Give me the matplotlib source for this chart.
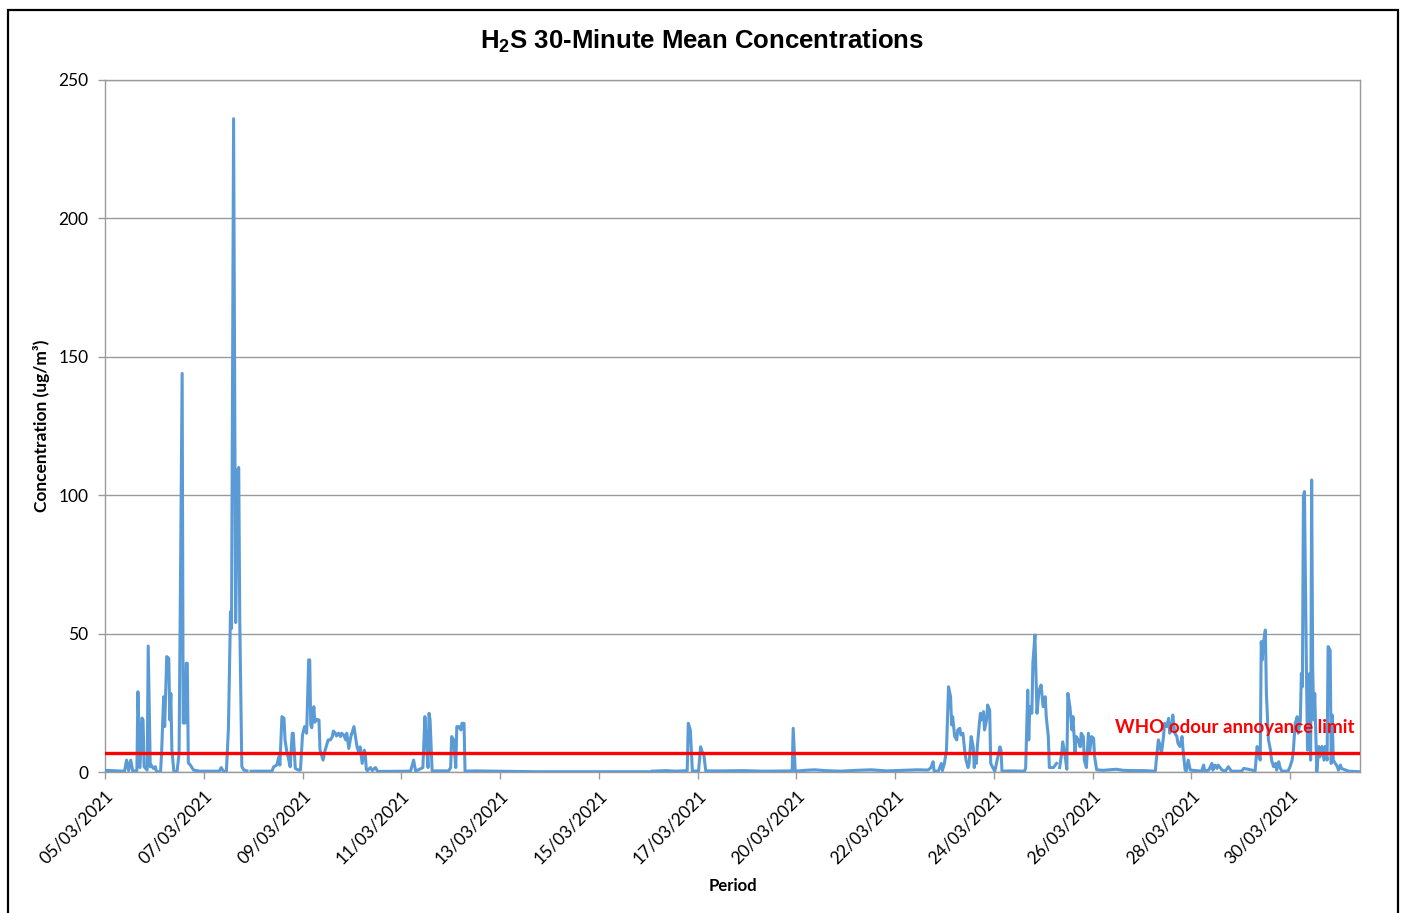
import numpy as np
import matplotlib.pyplot as plt
from matplotlib.patches import Rectangle
from matplotlib.transforms import blended_transform_factory

plt.rcParams['font.family'] = ['Lato', 'DejaVu Sans']
plt.rcParams['mathtext.fontset'] = 'custom'
plt.rcParams['mathtext.rm'] = 'Liberation Sans:bold'
plt.rcParams['mathtext.it'] = 'Liberation Sans:bold'
plt.rcParams['mathtext.bf'] = 'Liberation Sans:bold'

# x = 30-minute sample number on the (category) axis, one date label every 96 samples
date_labels = ["05/03/2021", "07/03/2021", "09/03/2021", "11/03/2021", "13/03/2021",
               "15/03/2021", "17/03/2021", "20/03/2021", "22/03/2021", "24/03/2021",
               "26/03/2021", "28/03/2021", "30/03/2021"]
label_step = 96
n_samples = 1221
who_limit = 7  # ug/m3
nan = np.nan

# 05/03 - 09/03
idx_05_09 = [0, 19, 21, 23, 25, 27, 31, 32, 34, 36, 37, 38, 41, 42, 44, 45, 47, 49, 50, 54,
             55, 57, 58, 60, 62, 63, 64, 65, 67, 70, 72, 75, 76, 78, 79, 80, 81, 83, 86, 92,
             111, 113, 115, 118, 120, 122, 123, 125, 127, 129, 130, 131, 133, 135, 138, 139, 140,
             142, 161, 162, 164, 167, 169, 170, 172, 174, 175, 177, 178, 180, 182, 183, 185, 188,
             190, 192, 194, 196, 198, 199]
h2s_05_09 = [0.6, 0.3, 4.3, 0.5, 4.3, 0.3, 0.5, 29, 1.6, 19.5, 18.8, 1.9, 0.7, 45.5, 1.9, 2.5, 1.3, 1.9, 0.1, 0.1,
             6.7, 27.2, 16.4, 41.7, 41, 18.8, 28.4, 7.9, 0.1, 0.1, 6.7, 144, 17.7, 17.7, 39.3, 39.3, 3.3, 2.5, 0.7, 0.3,
             0.3, 1.6, 0.3, 0.2, 15.8, 57.9, 51.9, 236, 54, 109, 110, 55, 2, 0.7, 0.4, nan, nan,
             0.3, 0.3, 0.0, 1.9, 2.5, 5.5, 2.5, 20, 19.4, 11.6, 6.7, 5.5, 1.9, 14, 14, 1.3, 0.7,
             0.7, 13.4, 16.4, 14, 40.5, 40.5]

# 09/03 - 13/03
idx_09_13 = [200, 201, 203, 204, 206, 208, 209, 211, 212, 214, 216, 217, 219, 221, 222, 224, 225, 227,
             229, 230, 232, 234, 235, 237, 239, 240, 242, 243, 245, 247, 248, 250, 252, 253, 254, 255,
             258, 260, 261, 263, 265, 297, 300, 302, 309, 311, 312, 314, 315, 316, 318, 334, 336, 337, 339,
             341, 342, 344, 346, 347, 349, 350, 360, 380]
h2s_09_13 = [17, 16, 23.6, 18, 19, 18.8, 8, 5.5, 4.3, 7.9, 10.4, 11.6, 11.6, 12.8, 14.8, 14, 13, 14,
             12.8, 14, 13.4, 11.6, 14, 8.5, 12.8, 14, 16.4, 14, 9.1, 6.7, 9.1, 3.1, 7.9, 6.7, 1, 0.5,
             1.6, 0.5, 1.0, 1.6, 0.2, 0.3, 4.3, 0.3, 1.6, 20, 12.8, 1.6, 21.2, 18.8, 0.4, 0.4, 1.6, 12.8, 11.6,
             1.6, 16.4, 16.4, 15.2, 17.6, 17.6, 0.3, 0.4, 0.3]

# 13/03 - 22/03
idx_13_22 = [400, 420, 450, 480, 510, 529, 530, 531, 532, 545, 555, 566, 567, 569, 571, 577, 579, 581,
             582, 584, 600, 620, 640, 660, 668, 669, 671, 680, 690, 700, 715, 730, 745, 760, 775, 790,
             800]
h2s_13_22 = [0.2, 0.1, 0.1, 0.1, 0.1, 0.1, nan, nan, 0.3, 0.5, 0.3, 0.5, 17.6, 15.2, 0.3, 0.4, 9.1, 6.7,
             6.7, 0.4, 0.4, 0.5, 0.3, 0.4, 0.4, 15.8, 0.3, 0.6, 0.8, 0.5, 0.3, 0.6, 0.8, 0.4, 0.6, 0.8,
             0.7]

# 22/03 - 27/03
idx_22_27 = [803, 805, 806, 810, 813, 814, 816, 818, 820, 821, 822, 823, 824, 826, 828, 829, 831, 832,
             834, 836, 837, 839, 840, 842, 844, 845, 846, 847, 848, 850, 851, 852, 854, 855, 857, 858,
             860, 861, 863, 865, 868, 870, 871, 872, 880, 894, 895, 897, 898, 899, 901, 902, 904, 905,
             906, 908, 910, 911, 912, 914, 915, 917, 918, 922, 925, 926, 927, 928, 930, 931, 933, 935,
             936, 938, 940, 941, 943, 944, 946, 948, 949, 951, 952, 954, 956, 957, 959, 961, 962, 964,
             970, 983, 990, 1000, 1010]
h2s_22_27 = [1.6, 3.7, 0.3, 0.3, 3.1, 0.5, 3.1, 7.9, 30.8, 29, 27.2, 17, 20, 12.8, 11.6, 15.2, 15.8, 13.4,
             14, 6.7, 4.3, 1.6, 3.1, 12.8, 9.1, 1.6, 6.7, 3.1, 9.1, 17.6, 21.2, 18.8, 21.8, 15.2, 18.8, 24.2,
             22.4, 3.1, 1.6, 0.3, 5.5, 9.1, 7.9, 0.3, 0.4, 0.3, 1.6, 29.6, 11.6, 23.6, 21.2, 39.3, 49.5, 35.6,
             21.2, 29.6, 31.4, 27.2, 23.6, 27.2, 20, 12.8, 1.6, 1.6, 3.1, nan, nan, 1.6, 6.7, 10.9, 6.7, 1,
             28.4, 23.6, 15.2, 20, 6.7, 12.8, 11.6, 9.1, 14, 12.8, 4.3, 1.6, 14, 6.7, 12.8, 12.2, 5.5, 0.8,
             0.6, 1.0, 0.6, 0.5, 0.5]

# 27/03 - 31/03
idx_27_31 = [1021, 1022, 1024, 1025, 1027, 1029, 1030, 1032, 1034, 1035, 1037, 1038, 1040, 1042, 1043,
             1045, 1047, 1048, 1050, 1051, 1053, 1055, 1066, 1068, 1069, 1073, 1076, 1077, 1079, 1081,
             1082, 1086, 1089, 1092, 1095, 1105, 1107, 1115, 1118, 1120, 1121, 1123, 1124, 1125, 1126,
             1128, 1129, 1131, 1133, 1134, 1136, 1138, 1139, 1141, 1142, 1144, 1150, 1152, 1154, 1155,
             1157, 1159, 1160, 1162, 1163, 1164, 1165, 1166, 1168, 1169, 1170, 1171, 1172, 1173, 1174,
             1175, 1176, 1178, 1180, 1181, 1183, 1185, 1186, 1188, 1189, 1191, 1192, 1193, 1194, 1196,
             1198, 1199, 1201, 1202, 1206, 1209, 1220]
h2s_27_31 = [0.3, 4.3, 11.6, 10.4, 6.7, 12.8, 17.6, 16.4, 19.4, 14, 16.4, 20.6, 14, 12.8, 10.4,
             9.2, 12.8, 7.9, 0.7, 0.3, 4.3, 0.7, 0.3, 2.5, 0.3, 0.7, 3.1, 0.7, 2.5, 1.3,
             2.5, 0.7, 0.3, 1.9, 0.3, 0.3, 1.3, 0.7, 0.3, 9.2, 6.7, 4.3, 47.1, 40.5, 46.5,
             51.3, 28.4, 11.6, 7.9, 4.3, 1.9, 3.1, 0.7, 3.7, 1.9, 0.3, 0.3, 1.9, 4.3, 6.7,
             17.6, 20, 14, 18.8, 35.6, 30.8, 99.5, 101.3, 34.4, 7.9, 16.4, 35.6, 4.3, 105.5, 38.1,
             18.8, 28.4, 0.1, 9.2, 5.5, 9.2, 4.3, 9.2, 4.3, 45.3, 44, 3.1, 20.6, 4.3, 3.1,
             1.9, 0.7, 2.5, 1.3, 0.7, 0.3, 0.1]

sample = np.concatenate([idx_05_09, idx_09_13, idx_13_22, idx_22_27, idx_27_31])
h2s = np.concatenate([h2s_05_09, h2s_09_13, h2s_13_22, h2s_22_27, h2s_27_31])

fig = plt.figure(figsize=(14.04, 9.13), dpi=100)
ax = fig.add_axes([105 / 1404, 1 - 772 / 913, (1360 - 105) / 1404, (772 - 80) / 913])

grey = '#9a9a9a'
ax.plot(sample, h2s, color='#5B9BD5', lw=2.2, solid_joinstyle='round', zorder=3)
ax.axhline(who_limit, color='#FF0000', lw=2.4, zorder=4)
ax.text(0.996, who_limit + 9, "WHO odour annoyance limit", color='#FF0000', fontsize=13.5,
        fontweight='bold', ha='right', va='center', zorder=5,
        transform=blended_transform_factory(ax.transAxes, ax.transData))

ax.set_xlim(0, n_samples - 1)
ax.set_ylim(0, 250)
ax.set_yticks(range(0, 251, 50))
ax.set_xticks(range(0, len(date_labels) * label_step, label_step))
ax.set_xticklabels(date_labels, rotation=45, ha='right', rotation_mode='anchor')
ax.grid(axis='y', color=grey, lw=1)
ax.set_axisbelow(True)
for s in ax.spines.values():
    s.set_color(grey)
    s.set_linewidth(1)
ax.tick_params(axis='both', colors=grey, length=5, width=1, labelcolor='black', labelsize=12.5)
ax.tick_params(axis='y', pad=7)
ax.tick_params(axis='x', pad=6)

ax.set_ylabel("Concentration (ug/m\u00b3)", fontsize=12.5, fontweight='bold', labelpad=6)
ax.set_xlabel("Period", fontsize=12, fontweight='bold', labelpad=8)

fig.text(0.5, 1 - 41 / 913, r"H$_{2}$S 30-Minute Mean Concentrations", family='Liberation Sans',
         fontsize=18.5, fontweight='bold', ha='center', va='center')

fig.patches.append(Rectangle((8 / 1404, -0.02), 1390 / 1404, 1.02 - 10 / 913, transform=fig.transFigure,
                             fill=False, edgecolor='black', lw=1.6))

fig.savefig('out.png', dpi=100)
